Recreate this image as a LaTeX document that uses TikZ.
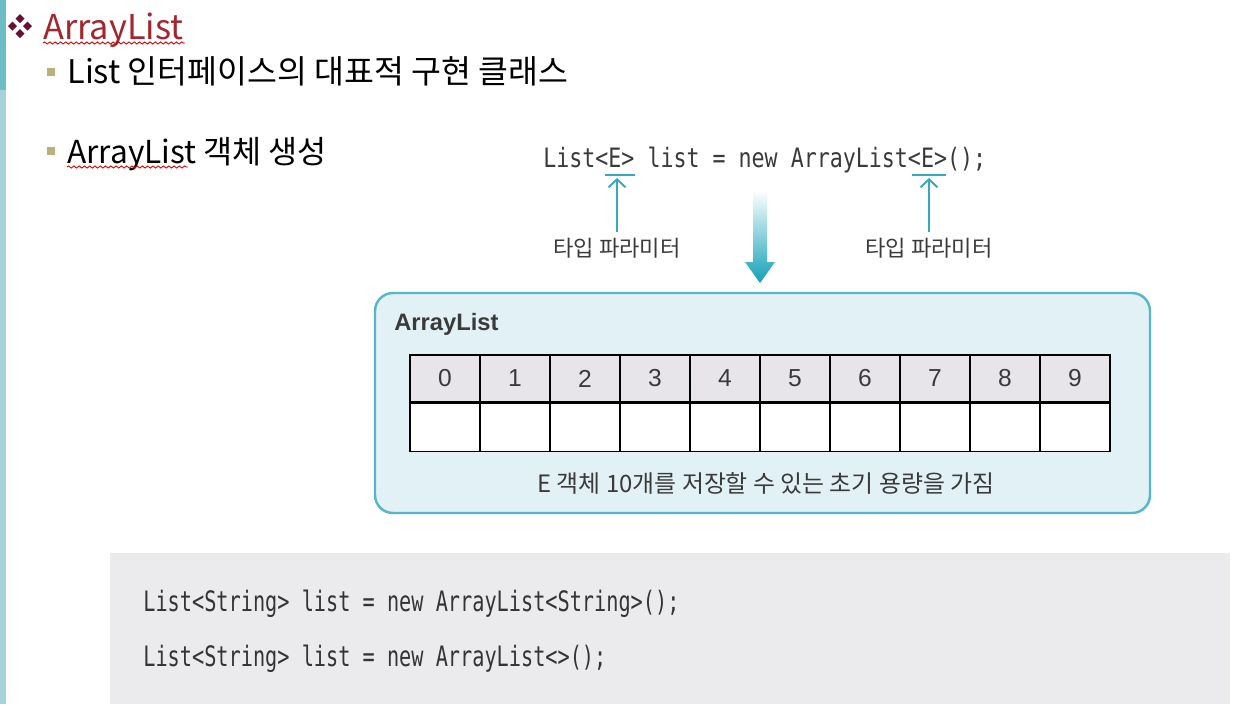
\documentclass[tikz,border=0pt]{standalone}
\usepackage{fontspec}
\setmainfont{Liberation Sans}
\newfontfamily\kr{Noto Sans CJK KR}
\newfontfamily\codefont{DejaVu Sans Mono}[FakeStretch=0.81]
\newfontfamily\codefontb{DejaVu Sans Mono}[FakeStretch=0.72]
\usetikzlibrary{positioning,calc,arrows.meta,decorations.pathmorphing}

\definecolor{titlered}{HTML}{A3262E}
\definecolor{maroon}{HTML}{6A0F33}
\definecolor{bulletgold}{HTML}{B9B07C}
\definecolor{tealline}{HTML}{35A9C0}
\definecolor{arrowteal}{HTML}{12A0B8}
\definecolor{boxedge}{HTML}{56B7CC}
\definecolor{boxfill}{HTML}{E2F1F5}
\definecolor{cellgray}{HTML}{E7E5E9}
\definecolor{codebg}{HTML}{EBEBEE}
\definecolor{stripe}{HTML}{A6D2DA}
\definecolor{stripetop}{HTML}{6DBDC6}
\definecolor{labelgray}{HTML}{3A3A3A}

\begin{document}
\begin{tikzpicture}[x=0.02cm,y=-0.02cm,
    slide/.style={inner sep=0pt, anchor=base west},
    hcell/.style={draw, line width=0.9pt, fill=cellgray, minimum width=1.4cm, minimum height=0.94cm, inner sep=0pt, font=\fontsize{14}{16}\selectfont, text=labelgray},
    dcell/.style={draw, line width=0.9pt, fill=white, minimum width=1.4cm, minimum height=0.96cm, inner sep=0pt},
    typeline/.style={draw=tealline, line width=1.1pt},
    typearrow/.style={typeline, -{Straight Barb[length=1.6mm,width=3.4mm]}},
    typelabel/.style={font=\kr\fontsize{12.6}{14}\selectfont, text=labelgray},
    codeline/.style={slide, font=\codefontb\fontsize{16}{18}\selectfont, text=labelgray!90!black},
    spell/.style={draw=red!85!black, line width=0.5pt, decorate, decoration={snake, amplitude=0.6pt, segment length=3pt}}]
    \useasboundingbox (0,0) rectangle (1250,704);

    % Slide edge
    \fill[stripetop] (0,0) rectangle (6,90);
    \fill[stripe] (0,90) rectangle (6,704);

    % Title
    \foreach \dx/\dy in {0/-7.5, -7.5/0, 7.5/0, 0/7.5}
        \fill[maroon] ({20+\dx},{26+\dy}) +(0,-4.5) -- +(4.5,0) -- +(0,4.5) -- +(-4.5,0) -- cycle;
    \node[slide, font=\kr\fontsize{19.5}{22}\selectfont, text=titlered] (title) at (43,39) {ArrayList};
    \draw[spell] (43,43) -- (185,43);

    % Bullets
    \fill[bulletgold] (47,68) rectangle (55,76);
    \node[slide, font=\kr\fontsize{18.5}{20}\selectfont] (item1) at (67,83) {List 인터페이스의 대표적 구현 클래스};
    \fill[bulletgold] (47,147) rectangle (55,155);
    \node[slide, font=\kr\fontsize{18}{20}\selectfont] (item2) at (67,163) {ArrayList 객체 생성};
    \draw[spell] (67,167) -- (188,167);

    % Declaration with type parameters
    \node[slide, font=\codefont\fontsize{15.2}{17}\selectfont, text=labelgray] (decl) at (543,167) {List<E> list = new ArrayList<E>();};
    \draw[typeline] (605,175) -- (635,175);
    \draw[typeline] (912,175) -- (946,175);
    \coordinate (ul1) at (618,178);
    \coordinate (ul2) at (930,178);
    \node[typelabel] (tp1) at (617,248) {타입 파라미터};
    \node[typelabel] (tp2) at (929,248) {타입 파라미터};
    \draw[typearrow] (tp1.north) -- (tp1.north |- ul1);
    \draw[typearrow] (tp2.north) -- (tp2.north |- ul2);

    % Down arrow
    \shade[top color=white, middle color=arrowteal!75, bottom color=arrowteal]
        (753,190) -- (767,190) -- (767,262) -- (775,262) -- (760,283) -- (745,262) -- (753,262) -- cycle;

    % ArrayList box
    \draw[draw=boxedge, fill=boxfill, line width=1.4pt, rounded corners=0.36cm] (375,293) rectangle (1150,513);
    \node[slide, font=\bfseries\fontsize{13.5}{16}\selectfont, text=labelgray] (boxname) at (394,330) {ArrayList};
    \foreach \i in {0,...,9} {
        \node[hcell] (h\i) at ({445+70*\i},378.5) {\i};
        \node[dcell, below=0pt of h\i] (d\i) {};
    }
    \node[font=\kr\fontsize{13.6}{15}\selectfont, text=labelgray] (cap) at (766,483) {E 객체 10개를 저장할 수 있는 초기 용량을 가짐};

    % Code examples
    \fill[codebg] (110,553) rectangle (1230,704);
    \node[codeline] (line1) at (143,611) {List<String> list = new ArrayList<String>();};
    \node[codeline] (line2) at (143,666) {List<String> list = new ArrayList<>();};
\end{tikzpicture}
\end{document}
